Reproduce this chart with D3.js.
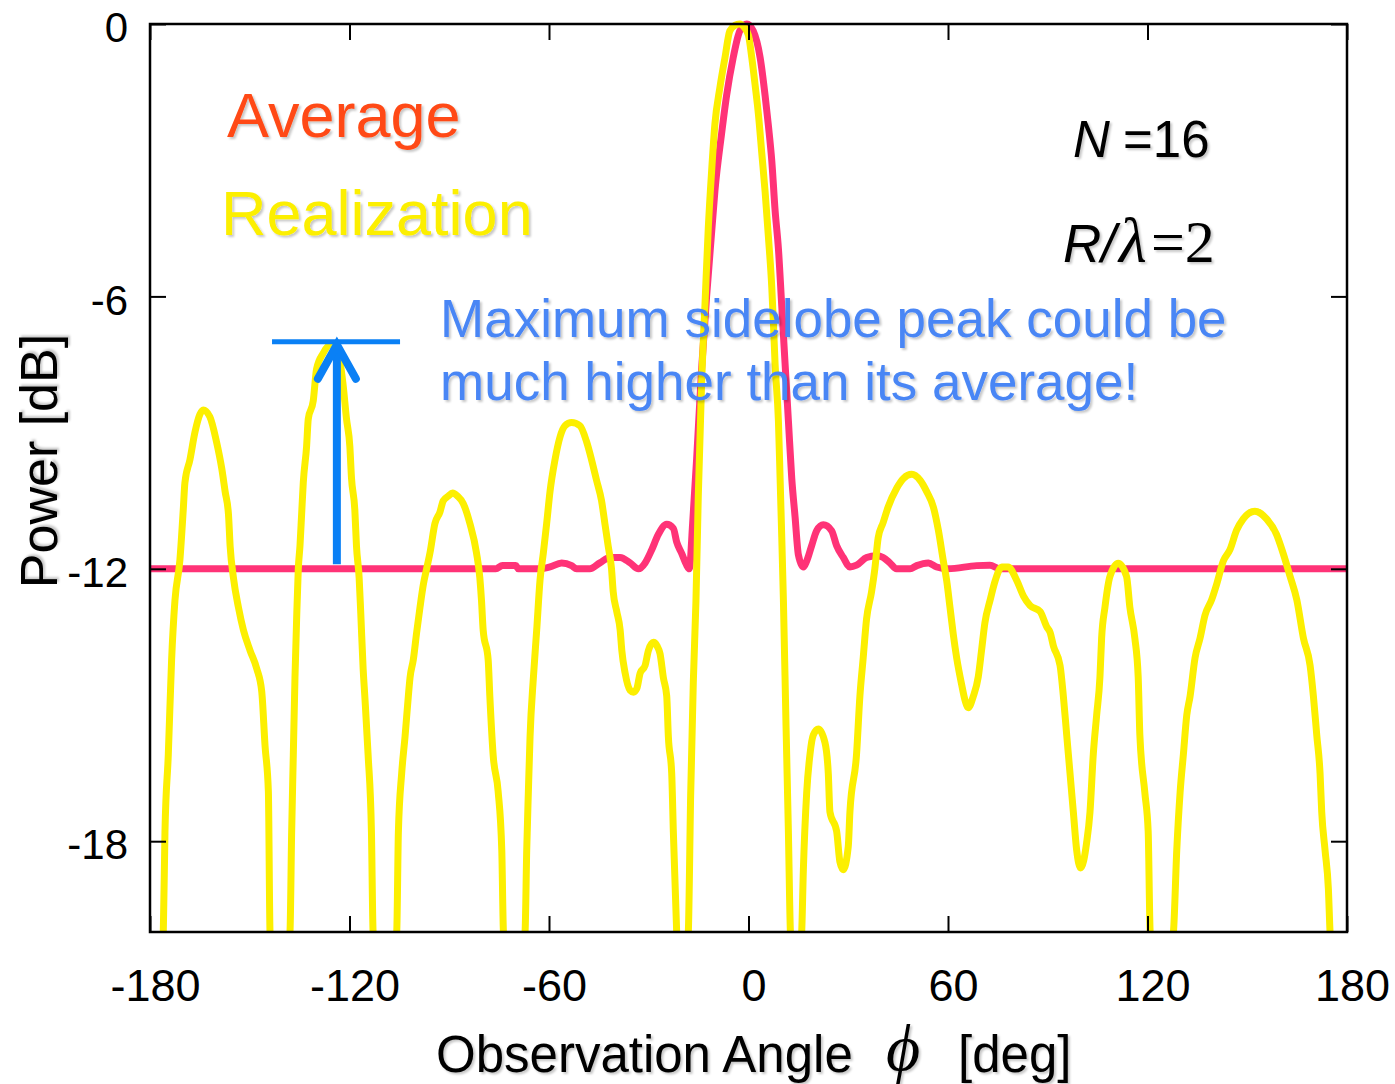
<!DOCTYPE html>
<html><head><meta charset="utf-8">
<script src="https://cdn.jsdelivr.net/npm/d3@7"></script>
<style>body{margin:0;background:#fff}</style>
</head><body><svg id="c" width="1395" height="1084"></svg>
<script>
const xTicks = [-180,-120,-60,0,60,120,180];
const yTicks = [0,-6,-12,-18];

// Realization (yellow)
const realAngle = [
-177.5,-176.0,-175.5,-174.5,-173.5,-172.5,-171.0,-170.0,-169.5,-168.0,-166.5,-165.0,-164.0,-162.0,-160.0,-158.4,-157.4,-156.4,-155.9,-154.9,-153.4,-151.9,-149.9,-147.9,-146.4,-145.4,-144.4,-143.9,-141.0,
-137.9,-137.4,-136.9,-136.4,-135.9,-135.4,-134.9,-134.4,-133.9,-132.9,-132.4,-130.9,-129.9,-127.9,-125.5,-123.0,-122.0,-120.9,-119.9,-119.4,-118.4,-117.9,-117.1,-116.6,-115.9,-115.4,-114.4,-113.4,-112.9,-109.5,
-105.8,-105.3,-104.3,-103.3,-102.3,-101.8,-100.8,-99.8,-98.8,-97.8,-96.8,-95.8,-94.3,-92.8,-91.8,-90.3,-89.0,-87.5,-85.8,-83.8,-81.8,-80.8,-80.3,-79.8,-78.3,-77.8,-76.8,-75.3,-74.2,-73.7,-70.5,
-67.2,-66.7,-66.2,-65.7,-64.7,-63.7,-62.7,-61.7,-60.7,-59.7,-58.2,-56.7,-55.2,-53.2,-50.7,-48.7,-47.2,-45.7,-44.2,-43.2,-42.2,-41.2,-40.7,-39.6,-38.6,-38.1,-37.1,-35.6,-34.6,-33.6,-32.6,-31.1,-30.1,-28.6,-27.5,-26.6,-25.6,-24.6,-24.1,-23.1,-22.6,-21.6,-20.0,
-18.1,-17.4,-16.6,-15.8,-15.1,-14.1,-13.1,-12.1,-11.1,-10.1,-8.6,-7.1,-5.6,-4.1,-2.7,-1.2,0.0,1.0,2.0,3.0,4.0,5.0,6.0,7.0,7.5,8.0,9.0,9.5,10.0,10.5,11.3,12.0,12.6,14.2,
16.0,16.5,17.5,18.5,19.5,21.0,23.0,24.0,24.5,26.5,27.5,28.5,30.0,30.5,32.5,33.5,34.5,35.5,37.0,38.0,39.0,40.5,42.0,44.6,46.6,49.1,51.6,53.6,55.6,57.1,58.6,59.6,60.6,61.6,62.6,64.1,65.1,66.1,67.6,69.1,70.1,71.1,72.7,74.2,76.2,78.1,80.7,82.7,84.7,87.7,89.7,90.7,91.7,93.7,94.7,95.7,96.7,97.7,98.7,99.9,101.7,102.7,103.7,104.7,105.7,106.2,107.2,108.7,111.2,113.7,114.7,116.2,117.2,117.7,119.2,120.2,120.8,124.0,
127.8,128.8,129.8,130.8,131.8,132.8,134.3,135.8,137.3,139.3,140.8,142.8,144.8,146.8,148.8,152.3,155.8,158.8,160.8,162.9,164.9,166.9,168.9,169.9,170.9,171.9,172.4,173.4,174.4,174.9,177.0
];
const realPower = [
-21.5,-20.0,-17.8,-16.1,-14.0,-12.7,-11.8,-10.7,-10.1,-9.6,-9.0,-8.6,-8.5,-8.65,-9.2,-9.8,-10.3,-10.8,-11.5,-12.2,-12.85,-13.35,-13.8,-14.2,-14.7,-15.9,-16.9,-20.0,-21.5,
-20.0,-17.8,-16.1,-14.4,-13.1,-12.0,-11.5,-10.8,-10.1,-9.3,-8.7,-8.3,-7.6,-7.25,-7.05,-7.4,-7.9,-8.7,-9.3,-10.0,-10.7,-11.5,-12.2,-13.0,-14.2,-14.8,-16.1,-17.8,-20.0,-21.5,
-20.0,-17.8,-16.5,-15.7,-14.8,-14.4,-14.0,-13.4,-12.85,-12.35,-12.0,-11.65,-11.0,-10.75,-10.5,-10.4,-10.33,-10.4,-10.56,-11.0,-11.65,-12.2,-12.7,-13.35,-14.0,-14.8,-16.1,-16.9,-18.2,-20.0,-21.5,
-20.0,-18.2,-16.9,-15.7,-14.4,-13.35,-12.25,-11.65,-11.0,-10.3,-9.6,-9.1,-8.85,-8.78,-8.85,-9.2,-9.6,-10.05,-10.5,-11.0,-11.5,-12.0,-12.5,-12.95,-13.35,-13.8,-14.3,-14.68,-14.72,-14.64,-14.3,-14.13,-13.8,-13.62,-13.7,-13.87,-14.4,-14.8,-15.7,-16.5,-17.8,-20.0,-21.5,
-20.0,-17.0,-14.5,-12.7,-10.4,-7.9,-6.2,-4.5,-3.25,-2.2,-1.4,-0.75,-0.15,-0.03,0.0,-0.08,-0.25,-0.75,-1.35,-2.0,-2.85,-3.7,-4.7,-5.8,-6.6,-7.5,-8.75,-10.0,-11.3,-12.7,-15.5,-17.8,-20.0,-21.5,
-20.0,-18.63,-16.93,-16.08,-15.66,-15.53,-15.83,-16.51,-17.36,-17.78,-18.46,-18.63,-18.12,-17.36,-16.08,-14.81,-13.96,-13.11,-12.51,-12.0,-11.32,-10.98,-10.64,-10.22,-10.01,-9.92,-10.05,-10.3,-10.64,-11.15,-11.83,-12.26,-12.85,-13.45,-13.96,-14.55,-14.89,-15.06,-14.81,-14.38,-13.79,-13.19,-12.68,-12.26,-11.96,-11.96,-12.26,-12.6,-12.81,-12.94,-13.28,-13.4,-13.7,-14.13,-14.81,-15.66,-16.51,-17.36,-18.2,-18.59,-18.03,-17.36,-16.08,-15.23,-14.38,-13.53,-12.85,-12.17,-11.88,-12.17,-12.85,-13.53,-14.38,-15.66,-16.93,-17.78,-20.0,-21.5,
-20.0,-18.2,-16.93,-16.08,-15.23,-14.81,-13.96,-13.53,-13.02,-12.68,-12.34,-11.83,-11.58,-11.15,-10.9,-10.73,-10.9,-11.24,-11.66,-12.17,-12.68,-13.53,-14.13,-14.81,-15.66,-16.51,-17.36,-18.2,-19.05,-20.0,-21.5
];

// Average (pink)
const avgAngle = [
-180,-76,-74,-70,-69.2,-62.7,-59.7,-56.2,-53.2,-51.7,-47.7,-44.7,-41.7,-38.6,-35.6,-33.1,-31.1,-29.1,-27.1,-24.6,-22.6,-21.6,-20.1,-18.6,-17.8,
-16.8,-15.6,-14.1,-12.6,-11.1,-10.1,-8.1,-6.6,-4.6,-2.6,-0.5,1.4,3.5,5.0,6.0,7.0,8.0,9.0,10.0,11.0,12.0,13.0,14.0,15.0,16.5,
17.5,19.0,20.5,22.5,25.0,26.5,28.5,30.5,32.5,35.5,38.5,40.5,42.5,44.5,48.6,50.6,54.1,56.6,60.0,68.6,72.6,75.6,180
];
const avgPower = [
-12,-12,-11.93,-11.93,-12,-12,-11.96,-11.87,-11.93,-12,-12,-11.87,-11.75,-11.75,-11.87,-12,-11.87,-11.58,-11.24,-11.02,-11.11,-11.41,-11.66,-11.92,-12,
-11.0,-9.58,-7.6,-6.0,-4.6,-3.68,-2.42,-1.58,-0.74,-0.15,0,-0.15,-0.74,-1.58,-2.25,-3.01,-4.11,-4.95,-6.21,-7.48,-8.74,-10.0,-10.85,-11.69,-11.96,
-11.83,-11.49,-11.16,-11.03,-11.16,-11.49,-11.75,-11.96,-11.92,-11.75,-11.71,-11.75,-11.87,-12,-12,-11.93,-11.87,-11.96,-12,-11.93,-11.92,-12,-12
];

// Annotation arrow (data coords)
const arrowAngle = [-123.8];
const arrowPower = [-11.9, -7.0];
const barAngle = [-143.3, -104.8];

const svg = d3.select('#c');
const x = d3.scaleLinear().domain([-180,180]).range([150,1347]);
const y = d3.scaleLinear().domain([-20,0]).range([932,24]);

const defs = svg.append('defs');
defs.append('clipPath').attr('id','clip').append('rect')
  .attr('x',x(-180)).attr('y',y(0)-10).attr('width',x(180)-x(-180)).attr('height',y(-20)-y(0)+10);
const f = defs.append('filter').attr('id','sh').attr('x','-5%').attr('y','-20%').attr('width','115%').attr('height','150%');
f.append('feDropShadow').attr('dx',2).attr('dy',2).attr('stdDeviation',1.2).attr('flood-color','#000').attr('flood-opacity',0.22);

const FONT = "'Liberation Sans', Arial, Helvetica, sans-serif";
const SERIF = "'Liberation Serif', 'Times New Roman', serif";

// curves
const realData = realAngle.map((a,i)=>[a, realPower[i]]);
const avgData = avgAngle.map((a,i)=>[a, avgPower[i]]);
const line = d3.line().x(d=>x(d[0])).y(d=>y(d[1])).curve(d3.curveMonotoneX);
const g = svg.append('g').attr('clip-path','url(#clip)');
g.append('path').datum(avgData).attr('d',line).attr('fill','none')
  .attr('stroke','#ff3377').attr('stroke-width',7).attr('stroke-linejoin','round').attr('stroke-linecap','round');
g.append('path').datum(realData).attr('d',line).attr('fill','none')
  .attr('stroke','#fcef00').attr('stroke-width',7).attr('stroke-linejoin','round').attr('stroke-linecap','round');

// frame
svg.append('rect').attr('x',x(-180)).attr('y',y(0)).attr('width',x(180)-x(-180)).attr('height',y(-20)-y(0))
  .attr('fill','none').attr('stroke','#000').attr('stroke-width',2.5);

function styleAxis(sel, fs){
  sel.select('.domain').remove();
  sel.selectAll('.tick line').attr('stroke','#000').attr('stroke-width',2);
  sel.selectAll('.tick text').attr('font-family',FONT).attr('font-size',fs).attr('fill','#000');
}
const fmt = d => String(d);
const xb = svg.append('g').attr('transform',`translate(0,${y(-20)})`)
  .call(d3.axisBottom(x).tickValues(xTicks).tickSizeInner(-16).tickSizeOuter(0).tickPadding(37).tickFormat(fmt));
styleAxis(xb, 45);
xb.selectAll('.tick text').attr('dx',5);
const xt = svg.append('g').attr('transform',`translate(0,${y(0)})`)
  .call(d3.axisTop(x).tickValues(xTicks).tickSizeInner(-16).tickSizeOuter(0).tickFormat(''));
styleAxis(xt, 10);
const yl = svg.append('g').attr('transform',`translate(${x(-180)},0)`)
  .call(d3.axisLeft(y).tickValues(yTicks).tickSizeInner(-16).tickSizeOuter(0).tickPadding(22).tickFormat(fmt));
styleAxis(yl, 42);
yl.selectAll('.tick text').attr('dy','0.42em');
const yr = svg.append('g').attr('transform',`translate(${x(180)},0)`)
  .call(d3.axisRight(y).tickValues(yTicks).tickSizeInner(-16).tickSizeOuter(0).tickFormat(''));
styleAxis(yr, 10);

// axis titles
svg.append('text').attr('transform','translate(57,461) rotate(-90)').attr('text-anchor','middle')
  .attr('font-family',FONT).attr('font-size',52).attr('filter','url(#sh)').text('Power [dB]');
svg.append('text').attr('x',436).attr('y',1072).attr('font-family',FONT).attr('font-size',51)
  .attr('filter','url(#sh)').text('Observation Angle');
svg.append('text').attr('x',886).attr('y',1070).attr('font-family',SERIF).attr('font-style','italic')
  .attr('font-size',66).attr('filter','url(#sh)').text('\u03D5');
svg.append('text').attr('x',958).attr('y',1072).attr('font-family',FONT).attr('font-size',51)
  .attr('filter','url(#sh)').text('[deg]');

// legend texts
svg.append('text').attr('x',227).attr('y',137).attr('font-family',FONT).attr('font-size',63)
  .attr('fill','#ff4a14').attr('filter','url(#sh)').text('Average');
svg.append('text').attr('x',221).attr('y',235).attr('font-family',FONT).attr('font-size',63)
  .attr('fill','#fcef00').attr('filter','url(#sh)').text('Realization');

// parameters
svg.append('text').attr('x',1073).attr('y',157).attr('font-family',FONT).attr('font-style','italic')
  .attr('font-size',51).attr('filter','url(#sh)').text('N');
svg.append('text').attr('x',1123).attr('y',157).attr('font-family',FONT)
  .attr('font-size',51).attr('filter','url(#sh)').text('=16');
svg.append('text').attr('x',1063).attr('y',262).attr('font-family',FONT).attr('font-style','italic')
  .attr('font-size',53).attr('filter','url(#sh)').text('R/');
svg.append('text').attr('x',1119).attr('y',262).attr('font-family',SERIF).attr('font-style','italic')
  .attr('font-size',64).attr('filter','url(#sh)').text('\u03BB');
svg.append('text').attr('x',1151).attr('y',262).attr('font-family',SERIF)
  .attr('font-size',60).attr('filter','url(#sh)').text('=2');

// annotation arrow
const ax = x(arrowAngle[0]);
svg.append('line').attr('x1',x(barAngle[0])).attr('x2',x(barAngle[1]))
  .attr('y1',y(arrowPower[1])).attr('y2',y(arrowPower[1])).attr('stroke','#0a80f5').attr('stroke-width',5);
svg.append('line').attr('x1',ax).attr('x2',ax).attr('y1',y(arrowPower[0])).attr('y2',y(arrowPower[1])+3)
  .attr('stroke','#0a80f5').attr('stroke-width',8);
svg.append('path').attr('d',`M${ax-19},${y(arrowPower[1])+37} L${ax},${y(arrowPower[1])+3} L${ax+19},${y(arrowPower[1])+37}`)
  .attr('fill','none').attr('stroke','#0a80f5').attr('stroke-width',8).attr('stroke-linecap','round').attr('stroke-linejoin','miter');

svg.append('text').attr('x',440).attr('y',337).attr('font-family',FONT).attr('font-size',53)
  .attr('fill','#4a86f5').attr('filter','url(#sh)').text('Maximum sidelobe peak could be');
svg.append('text').attr('x',440).attr('y',400).attr('font-family',FONT).attr('font-size',53)
  .attr('fill','#4a86f5').attr('filter','url(#sh)').text('much higher than its average!');
</script></body></html>
